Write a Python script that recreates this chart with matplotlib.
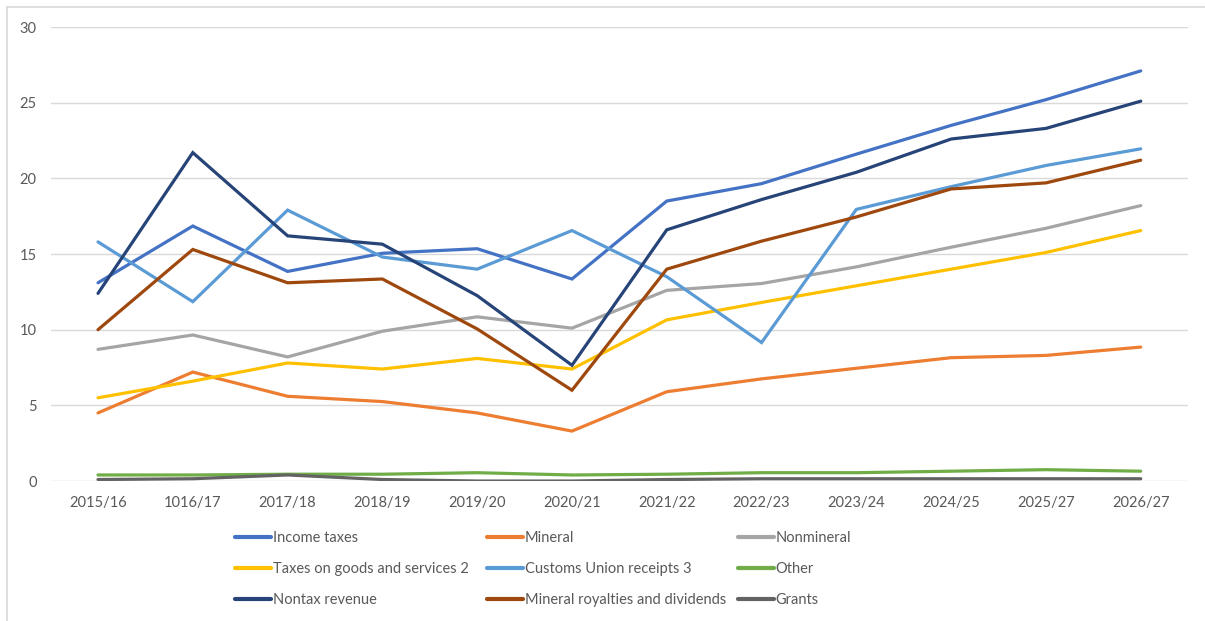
import matplotlib
matplotlib.use("Agg")
import matplotlib.pyplot as plt
from matplotlib.lines import Line2D

years = ["2015/16", "1016/17", "2017/18", "2018/19", "2019/20", "2020/21",
         "2021/22", "2022/23", "2023/24", "2024/25", "2025/27", "2026/27"]

income_taxes = [13.1, 16.85, 13.85, 15.05, 15.35, 13.35, 18.5, 19.65, 21.6, 23.5, 25.2, 27.1]
mineral = [4.5, 7.2, 5.6, 5.25, 4.5, 3.3, 5.9, 6.75, 7.45, 8.15, 8.3, 8.85]
nonmineral = [8.7, 9.65, 8.2, 9.9, 10.85, 10.1, 12.6, 13.05, 14.15, 15.45, 16.7, 18.2]
goods_services = [5.5, 6.6, 7.8, 7.4, 8.1, 7.4, 10.65, 11.8, 12.9, 14.0, 15.1, 16.55]
customs_union = [15.8, 11.85, 17.9, 14.8, 14.0, 16.55, 13.5, 9.15, 17.95, 19.45, 20.85, 21.95]
other = [0.4, 0.4, 0.45, 0.45, 0.55, 0.4, 0.45, 0.55, 0.55, 0.65, 0.75, 0.65]
nontax_revenue = [12.4, 21.7, 16.2, 15.65, 12.25, 7.65, 16.6, 18.6, 20.4, 22.6, 23.3, 25.1]
royalties_dividends = [10.0, 15.3, 13.1, 13.35, 10.05, 6.0, 14.0, 15.85, 17.45, 19.3, 19.7, 21.2]
grants = [0.1, 0.15, 0.4, 0.1, 0.0, 0.0, 0.1, 0.15, 0.15, 0.15, 0.15, 0.15]

series = [
    ("Income taxes", income_taxes, "#4472C4"),
    ("Mineral", mineral, "#ED7D31"),
    ("Nonmineral", nonmineral, "#A5A5A5"),
    ("Taxes on goods and services 2", goods_services, "#FFC000"),
    ("Customs Union receipts 3", customs_union, "#5B9BD5"),
    ("Other", other, "#70AD47"),
    ("Nontax revenue", nontax_revenue, "#264478"),
    ("Mineral royalties and dividends", royalties_dividends, "#9E480E"),
    ("Grants", grants, "#636363"),
]

plt.rcParams["font.family"] = ["Lato", "DejaVu Sans"]

fig = plt.figure(figsize=(12.05, 6.21), dpi=100)
ax = fig.add_axes([0.042, 0.2254, 0.944, 0.7311])

x = list(range(len(years)))
handles = []
for name, vals, color in series:
    h, = ax.plot(x, vals, color=color, lw=2.3, solid_joinstyle="miter",
                 solid_capstyle="round", label=name)
    handles.append(h)

ax.set_xlim(-0.5, len(years) - 0.5)
ax.set_ylim(0, 30)
ax.set_yticks(range(0, 31, 5))
ax.set_xticks(x)
ax.set_xticklabels(years)
ax.grid(axis="y", color="#D9D9D9", lw=1.0)
ax.set_axisbelow(True)
for s in ax.spines.values():
    s.set_visible(False)
ax.tick_params(axis="both", length=0, labelsize=10.5, colors="#595959")
ax.tick_params(axis="x", pad=11)
ax.tick_params(axis="y", pad=10)

# legend: three columns, entries read row by row
column_x = [0.195, 0.4041, 0.6124]
for col, cx in enumerate(column_x):
    idx = [col, col + 3, col + 6]
    leg = fig.legend([handles[i] for i in idx], [series[i][0] for i in idx],
                     loc="center left", bbox_to_anchor=(cx, 0.0837),
                     frameon=False, fontsize=10.5, handlelength=2.45,
                     handletextpad=0.15, labelspacing=1.19,
                     borderpad=0, borderaxespad=0)
    for t in leg.get_texts():
        t.set_color("#595959")
    for line in leg.get_lines():
        line.set_linewidth(3.0)

# chart frame (top and left edges)
fig.add_artist(Line2D([0.006, 1.0], [0.9887, 0.9887], transform=fig.transFigure,
                      color="#D9D9D9", lw=1.2))
fig.add_artist(Line2D([0.006, 0.006], [0.0, 0.9887], transform=fig.transFigure,
                      color="#D9D9D9", lw=1.2))

fig.savefig("out.png", dpi=100)
